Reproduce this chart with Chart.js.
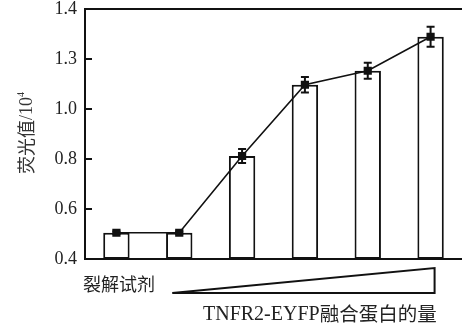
<!DOCTYPE html>
<html>
<head>
<meta charset="utf-8">
<script src="https://cdn.jsdelivr.net/npm/chart.js@4"></script>
<style>
  html, body { margin: 0; padding: 0; background: #fff; }
  #wrap { width: 462px; height: 323px; }
</style>
</head>
<body>
<div id="wrap"><canvas id="c" width="462" height="323"></canvas></div>
<script>
// Fluorescence of increasing amounts of TNFR2-EYFP fusion protein
const categories = ['1', '2', '3', '4', '5', '6'];
const fluorescence = [0.505, 0.505, 0.812, 1.097, 1.153, 1.289];
const errors = [0.005, 0.005, 0.028, 0.031, 0.032, 0.040];
const tickValues = [0.4, 0.6, 0.8, 1.0, 1.2, 1.4];
const tickLabels = ['0.4', '0.6', '0.8', '1.0', '1.3', '1.4'];

const SERIF = '"Liberation Serif", "DejaVu Serif", serif';
const CJK = '"Noto Sans CJK SC", "Noto Sans CJK JP", sans-serif';

const decorations = {
  id: 'decorations',
  afterDatasetsDraw(chart) {
    const ctx = chart.ctx;
    const area = chart.chartArea;
    const x = chart.scales.x;
    const y = chart.scales.y;
    ctx.save();
    ctx.strokeStyle = '#111';
    ctx.fillStyle = '#111';

    // error bars
    ctx.lineWidth = 2;
    fluorescence.forEach((v, i) => {
      const e = errors[i];
      const px = x.getPixelForValue(i);
      const yt = y.getPixelForValue(v + e);
      const yb = y.getPixelForValue(v - e);
      ctx.beginPath();
      ctx.moveTo(px, yt); ctx.lineTo(px, yb);
      ctx.moveTo(px - 4, yt); ctx.lineTo(px + 4, yt);
      ctx.moveTo(px - 4, yb); ctx.lineTo(px + 4, yb);
      ctx.stroke();
    });

    // frame top line
    ctx.lineWidth = 2;
    ctx.beginPath();
    ctx.moveTo(area.left - 1, area.top);
    ctx.lineTo(chart.width, area.top);
    ctx.stroke();

    // inward tick marks on the value axis
    ctx.lineWidth = 2;
    tickValues.forEach(t => {
      const py = Math.round(y.getPixelForValue(t));
      ctx.beginPath();
      ctx.moveTo(area.left, py);
      ctx.lineTo(area.left + 7, py);
      ctx.stroke();
    });

    // value axis title
    ctx.save();
    ctx.translate(26, 133);
    ctx.rotate(-Math.PI / 2);
    ctx.textBaseline = 'middle';
    ctx.fillStyle = '#333';
    ctx.font = '18px ' + CJK;
    const t1 = '荧光值';
    const w1 = ctx.measureText(t1).width;
    ctx.font = '18px ' + SERIF;
    const t2 = '/10';
    const w2 = ctx.measureText(t2).width;
    ctx.font = '10px ' + SERIF;
    const w3 = ctx.measureText('4').width;
    let sx = -(w1 + w2 + w3) / 2;
    ctx.font = '18px ' + CJK;
    ctx.textAlign = 'left';
    ctx.fillText(t1, sx, 0);
    sx += w1;
    ctx.font = '18px ' + SERIF;
    ctx.fillText(t2, sx, 1);
    sx += w2;
    ctx.font = '10px ' + SERIF;
    ctx.fillText('4', sx, -5);
    ctx.restore();

    // lysis reagent label
    ctx.fillStyle = '#222';
    ctx.textBaseline = 'middle';
    ctx.textAlign = 'left';
    ctx.font = '18px ' + CJK;
    ctx.fillText('裂解试剂', 83, 284);

    // increasing-amount wedge
    const wx0 = x.getPixelForValue(1) - 7;
    const wx1 = x.getPixelForValue(5) + 4;
    ctx.lineWidth = 2;
    ctx.beginPath();
    ctx.moveTo(wx0, 293);
    ctx.lineTo(wx1, 268);
    ctx.lineTo(wx1, 293);
    ctx.closePath();
    ctx.stroke();

    // fusion protein amount label
    let lx = 203;
    ctx.font = '20px ' + SERIF;
    ctx.fillText('TNFR2-EYFP', lx, 315);
    lx += ctx.measureText('TNFR2-EYFP').width;
    ctx.font = '19.5px ' + CJK;
    ctx.fillText('融合蛋白的量', lx, 314);

    ctx.restore();
  }
};

new Chart(document.getElementById('c'), {
  data: {
    labels: categories,
    datasets: [
      {
        type: 'line',
        data: fluorescence,
        borderColor: '#111',
        backgroundColor: '#111',
        borderWidth: 1.6,
        pointStyle: 'rect',
        pointRadius: 5.8,
        pointBorderWidth: 0,
        tension: 0,
        order: 0
      },
      {
        type: 'bar',
        data: fluorescence,
        backgroundColor: '#fff',
        borderColor: '#111',
        borderWidth: 2,
        borderSkipped: false,
        categoryPercentage: 1,
        barPercentage: 0.42,
        base: 0.4,
        order: 1
      }
    ]
  },
  plugins: [decorations],
  options: {
    responsive: false,
    animation: false,
    devicePixelRatio: 1,
    layout: { autoPadding: false, padding: { top: 9, right: 0, left: 0, bottom: 0 } },
    plugins: { legend: { display: false }, tooltip: { enabled: false } },
    scales: {
      x: {
        type: 'category',
        offset: true,
        grid: { display: false, drawTicks: false },
        border: { display: true, color: '#111', width: 2 },
        ticks: { display: false },
        afterFit(scale) { scale.height = 64; scale.paddingLeft = 0; scale.paddingRight = 0; }
      },
      y: {
        min: 0.4,
        max: 1.4,
        afterBuildTicks(scale) { scale.ticks = tickValues.map(v => ({ value: v })); },
        grid: { display: false, drawTicks: false },
        border: { display: true, color: '#111', width: 2 },
        ticks: {
          padding: 8,
          color: '#222',
          font: { family: SERIF, size: 18 },
          callback: (v) => {
            const i = tickValues.findIndex(t => Math.abs(t - v) < 1e-6);
            return i >= 0 ? tickLabels[i] : '';
          }
        },
        afterFit(scale) { scale.width = 85; scale.paddingTop = 0; scale.paddingBottom = 0; }
      }
    }
  }
});
</script>
</body>
</html>
